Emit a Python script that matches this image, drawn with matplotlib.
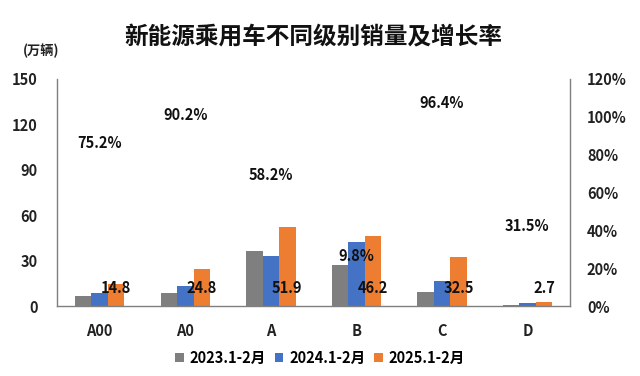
import matplotlib
matplotlib.use("Agg")
import matplotlib.pyplot as plt
import numpy as np
from matplotlib.ticker import FuncFormatter

plt.rcParams['font.family'] = ['Noto Sans CJK SC', 'DejaVu Sans']
plt.rcParams['font.weight'] = 'bold'

categories = ["A00", "A0", "A", "B", "C", "D"]
series_names = ["2023.1-2月", "2024.1-2月", "2025.1-2月"]
sales_2023 = [6.5, 8.3, 36.4, 27.0, 9.4, 1.0]
sales_2024 = [8.5, 13.0, 32.8, 42.1, 16.5, 2.05]
sales_2025 = [14.8, 24.8, 51.9, 46.2, 32.5, 2.7]
growth = [75.2, 90.2, 58.2, 9.8, 96.4, 31.5]
growth_labels = ["75.2%", "90.2%", "58.2%", "9.8%", "96.4%", "31.5%"]
value_labels = ["14.8", "24.8", "51.9", "46.2", "32.5", "2.7"]
left_ticks = [0, 30, 60, 90, 120, 150]
right_ticks = [0, 20, 40, 60, 80, 100, 120]

colors = ["#7f7f7f", "#4472c4", "#ed7d31"]
growth_offsets = [15, 15, 15, 23, 15, 15]  # points above the growth value
W = "heavy"

fig = plt.figure(figsize=(6.4, 3.76), dpi=100)
ax = fig.add_axes([0.089, 0.186, 0.802, 0.604])
ax2 = ax.twinx()

x = np.arange(len(categories))
w = 0.193
for i, (vals, c, name) in enumerate(zip([sales_2023, sales_2024, sales_2025], colors, series_names)):
    ax.bar(x + (i - 1) * w, vals, width=w, color=c, label=name, zorder=2)

ax.set_xlim(-0.5, len(categories) - 0.5)
ax.set_ylim(0, 150)
ax.set_yticks(left_ticks)
ax.set_xticks(x)
ax.set_xticklabels(categories)
ax2.set_ylim(0, 120)
ax2.set_yticks(right_ticks)
ax2.yaxis.set_major_formatter(FuncFormatter(lambda v, p: f"{int(v)}%"))

for a in (ax, ax2):
    a.spines["top"].set_visible(False)
    a.tick_params(length=0, labelsize=10.5, colors="#222222")
    for lab in a.get_xticklabels() + a.get_yticklabels():
        lab.set_fontweight(W)
ax.spines["right"].set_visible(False)
ax2.spines["left"].set_visible(False)
ax2.spines["bottom"].set_visible(False)
for s, a in (("left", ax), ("bottom", ax), ("right", ax2)):
    a.spines[s].set_color("#7f7f7f")
    a.spines[s].set_linewidth(1.0)
ax.tick_params(axis="y", pad=14)
ax.tick_params(axis="x", pad=12)
ax2.tick_params(axis="y", pad=12)

# value labels (2025) near the bottom of the orange bars
for xi, lab in zip(x, value_labels):
    ax.text(xi + w, 11.8, lab, ha="center", va="center", fontsize=10.5,
            fontweight=W, color="#111111", zorder=3)

# growth labels above invisible points
for xi, g, lab, off in zip(x, growth, growth_labels, growth_offsets):
    ax2.annotate(lab, (xi, g), xytext=(0, off), textcoords="offset points",
                 ha="center", va="center", fontsize=10.5, fontweight=W,
                 color="#111111")

fig.text(0.49, 1 - 37 / 376, "新能源乘用车不同级别销量及增长率", ha="center", va="center",
         fontsize=17, fontweight=W, color="#111111")
fig.text(0.065, 1 - 51 / 376, "(万辆)", ha="center", va="center", fontsize=9.5,
         fontweight=W, color="#222222")

handles, labels = ax.get_legend_handles_labels()
leg = fig.legend(handles, labels, loc="center", bbox_to_anchor=(0.5, 1 - 358 / 376),
                 ncol=3, frameon=False, handlelength=0.6, handleheight=0.6,
                 handletextpad=0.4, columnspacing=0.6,
                 prop={"weight": W, "size": 10.5})

fig.savefig("out.png", dpi=100)
